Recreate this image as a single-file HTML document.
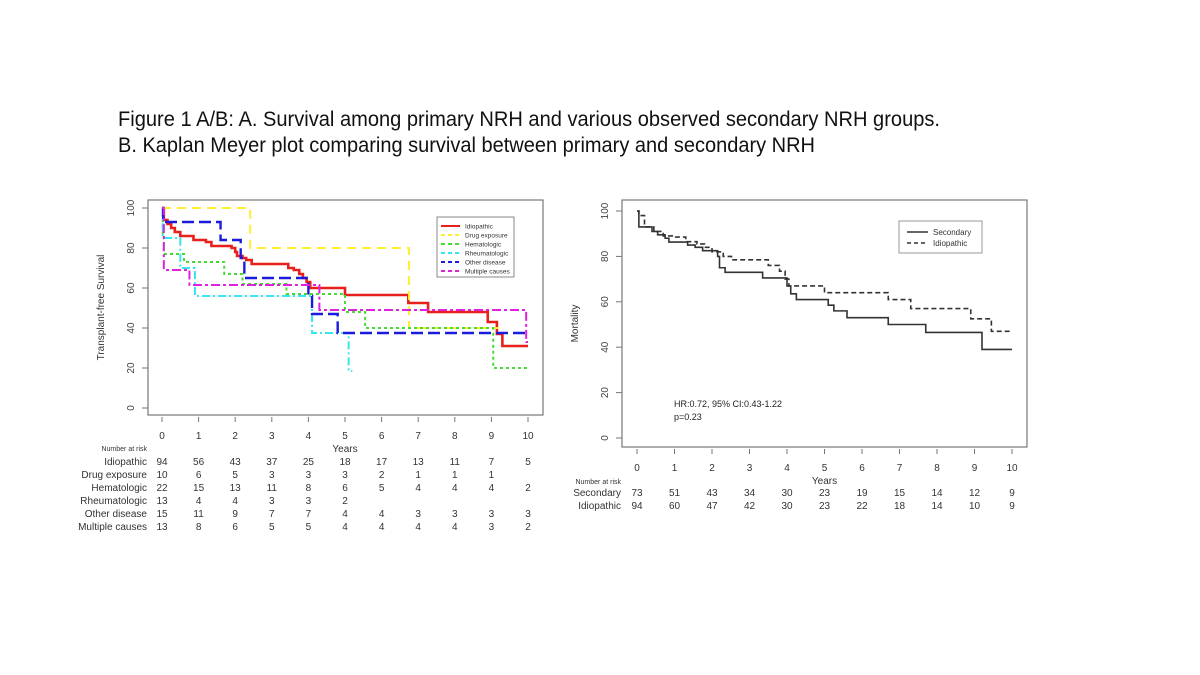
<!DOCTYPE html>
<html><head><meta charset="utf-8"><style>
body{margin:0;background:#fff;width:1200px;height:675px;overflow:hidden}
svg{display:block;font-family:"Liberation Sans",sans-serif}
</style></head><body>
<svg id="s" width="1200" height="675" viewBox="0 0 1200 675">
<text x="118" y="126" font-size="21" fill="#111" textLength="822" lengthAdjust="spacingAndGlyphs">Figure 1 A/B: A. Survival among primary NRH and various observed secondary NRH groups.</text>
<text x="118" y="152" font-size="21" fill="#111" textLength="697" lengthAdjust="spacingAndGlyphs">B. Kaplan Meyer plot comparing survival between primary and secondary NRH</text>
<g id="A"></g>
<g id="B"></g>
</svg>
<script>
// ---- Chart A data ----
const yearsA = [0,1,2,3,4,5,6,7,8,9,10];
const yTicks = [0,20,40,60,80,100];
const idioT = [0,0.05,0.15,0.25,0.35,0.5,0.86,1.2,1.35,1.9,2.0,2.05,2.2,2.3,2.45,3.45,3.6,3.75,3.85,3.95,4.05,5.0,6.73,7.27,8.9,9.15,9.3,10];
const idioV = [100,94,92,90,88,86,84,83,81,80,78,76,75,74,72,70,69,67,65,63,60,56.5,52.5,48,43,37,31,31];
const drugT = [0,2.41,6.75,9.2];
const drugV = [100,80,40,40];
const hemaT = [0,0.02,0.05,0.6,1.7,2.2,3.4,5.0,5.55,9.05,10];
const hemaV = [100,86,77,73,67,62,57,48,40,20,20];
const rheuT = [0,0.02,0.5,0.9,4.1,5.1,5.2];
const rheuV = [100,85,70,56,37.5,18.5,18.5];
const otherT = [0,0.03,1.6,2.15,2.25,4.0,4.1,4.8,10];
const otherV = [100,93,84,75,65,56,47,37.5,37.5];
const multT = [0,0.05,0.75,4.3,9.95,10];
const multV = [100,69,61.5,49,33,33];
const groupsA = ["Idiopathic","Drug exposure","Hematologic","Rheumatologic","Other disease","Multiple causes"];
const riskIdio = [94,56,43,37,25,18,17,13,11,7,5];
const riskDrug = [10,6,5,3,3,3,2,1,1,1,""];
const riskHema = [22,15,13,11,8,6,5,4,4,4,2];
const riskRheu = [13,4,4,3,3,2,"","","","",""];
const riskOther = [15,11,9,7,7,4,4,3,3,3,3];
const riskMult = [13,8,6,5,5,4,4,4,4,3,2];
// ---- Chart B data ----
const secT = [0,0.05,0.4,0.55,0.75,0.85,1.35,1.55,1.75,2.15,2.2,2.35,3.35,4.0,4.1,4.25,5.1,5.25,5.6,6.7,7.7,9.2,10];
const secV = [100,93,91,89.5,88,86.3,85,84,82.5,80,75,73,70.5,67,63.5,61,58.5,56,53,50,46.5,39,39];
const idiBT = [0,0.05,0.2,0.45,0.7,1.0,1.3,1.6,1.8,2.0,2.3,2.52,3.5,3.8,3.95,4.05,5.0,6.7,7.3,8.9,9.45,10];
const idiBV = [100,98,93,91,89,88.5,86.5,85.5,84,82,80,78.5,76,73.5,70,67,64,61,57,52.5,47,47];
const riskSec = [73,51,43,34,30,23,19,15,14,12,9];
const riskIdiB = [94,60,47,42,30,23,22,18,14,10,9];

const NS="http://www.w3.org/2000/svg";
function mk(p,tag,at,txt){const e=document.createElementNS(NS,tag);for(const k in at)e.setAttribute(k,at[k]);if(txt!==undefined)e.textContent=txt;p.appendChild(e);return e;}
function stepPath(T,V,xs,ys){let d="M"+xs(T[0])+","+ys(V[0]);for(let i=1;i<T.length;i++){d+=" H"+xs(T[i])+" V"+ys(V[i]);}return d;}

function axes(g,box,xs,ys,ylabel,lblX){
  const r=mk(g,"rect",{x:box[0],y:box[1],width:box[2]-box[0],height:box[3]-box[1],fill:"none",stroke:"#777","stroke-width":1.2});
  
  
  yTicks.forEach(v=>{
    const y=ys(v);
    mk(g,"line",{x1:box[0]-6,x2:box[0],y1:y,y2:y,stroke:"#777"});
    const t=mk(g,"text",{x:box[0]-14,y:y,"font-size":10,fill:"#444","text-anchor":"middle",transform:`rotate(-90 ${box[0]-14} ${y})`},v);
    
    
  });
  yearsA.forEach(v=>{
    const x=xs(v);
    mk(g,"line",{x1:x,x2:x,y1:box[3]+2,y2:box[3]+7,stroke:"#777"});
  });
  const yl=mk(g,"text",{x:lblX,y:(box[1]+box[3])/2,"font-size":10,fill:"#333","text-anchor":"middle",transform:`rotate(-90 ${lblX} ${(box[1]+box[3])/2})`},ylabel);
  
  
}

// Chart A
(function(){
  const g=document.getElementById("A");
  const xs=t=>162+36.6*t, ys=v=>408-2*v;
  axes(g,[148,200,543,415],xs,ys,"Transplant-free Survival",104);
  const series=[
    [idioT,idioV,"#e8201c","",2.6,"curve-idiopathic"],
    [drugT,drugV,"#ffee33","9,6",2,"curve-drug-exposure"],
    [hemaT,hemaV,"#44dd33","3,3",2,"curve-hematologic"],
    [rheuT,rheuV,"#33e6f0","8,3,2,3",2,"curve-rheumatologic"],
    [otherT,otherV,"#1b1bdd","12,5",2.4,"curve-other-disease"],
    [multT,multV,"#dd22dd","9,3,3,3",2,"curve-multiple-causes"]];
  series.forEach(s=>{
    const p=mk(g,"path",{d:stepPath(s[0],s[1],xs,ys),fill:"none",stroke:s[2],"stroke-width":s[4],"stroke-dasharray":s[3]});
    
    
  });
  const lg=mk(g,"g",{});
  
  
  mk(lg,"rect",{x:437,y:217,width:77,height:60,fill:"#fff",stroke:"#888"});
  groupsA.forEach((n,i)=>{
    const y=226+i*9;
    mk(lg,"line",{x1:441,x2:460,y1:y,y2:y,stroke:series[i][2],"stroke-width":2,"stroke-dasharray":series[i][3]?"4,3":""});
    const t=mk(lg,"text",{x:465,y:y+2.5,"font-size":6.5,fill:"#333"},n);
    
    
  });
  yearsA.forEach(v=>{const t=mk(g,"text",{x:xs(v),y:439,"font-size":10,fill:"#333","text-anchor":"middle"},v);
    
    });
  const yt=mk(g,"text",{x:xs(5),y:452,"font-size":10,fill:"#333","text-anchor":"middle"},"Years");
  
  
  mk(g,"text",{x:147,y:451,"font-size":7,fill:"#333","text-anchor":"end"},"Number at risk");
  const rows=[riskIdio,riskDrug,riskHema,riskRheu,riskOther,riskMult];
  rows.forEach((r,i)=>{
    const y=465+i*13;
    const l=mk(g,"text",{x:147,y:y,"font-size":10,fill:"#333","text-anchor":"end"},groupsA[i]);
    
    
    r.forEach((v,j)=>{mk(g,"text",{x:xs(yearsA[j]),y:y,"font-size":10,fill:"#333","text-anchor":"middle"},v);});
  });
})();

// Chart B
(function(){
  const g=document.getElementById("B");
  const xs=t=>637+37.5*t, ys=v=>438-2.27*v;
  axes(g,[622,200,1027,447],xs,ys,"Mortality",578);
  const a=mk(g,"path",{d:stepPath(secT,secV,xs,ys),fill:"none",stroke:"#333","stroke-width":1.6});
  
  
  const b=mk(g,"path",{d:stepPath(idiBT,idiBV,xs,ys),fill:"none",stroke:"#333","stroke-width":1.6,"stroke-dasharray":"5,3"});
  
  
  const lg=mk(g,"g",{});
  
  
  mk(lg,"rect",{x:899,y:221,width:83,height:32,fill:"#fff",stroke:"#999"});
  mk(lg,"line",{x1:907,x2:928,y1:232,y2:232,stroke:"#333","stroke-width":1.4});
  mk(lg,"line",{x1:907,x2:928,y1:243,y2:243,stroke:"#333","stroke-width":1.4,"stroke-dasharray":"4,3"});
  mk(lg,"text",{x:933,y:235,"font-size":8,fill:"#333"},"Secondary");
  mk(lg,"text",{x:933,y:246,"font-size":8,fill:"#333"},"Idiopathic");
  const h=mk(g,"text",{x:674,y:407,"font-size":9,fill:"#222"},"HR:0.72, 95% CI:0.43-1.22");
  
  
  mk(g,"text",{x:674,y:420,"font-size":9,fill:"#222"},"p=0.23");
  yearsA.forEach(v=>{const t=mk(g,"text",{x:xs(v),y:471,"font-size":10,fill:"#333","text-anchor":"middle"},v);
    
    });
  const yt=mk(g,"text",{x:xs(5),y:484,"font-size":10,fill:"#333","text-anchor":"middle"},"Years");
  
  
  mk(g,"text",{x:621,y:484,"font-size":7,fill:"#333","text-anchor":"end"},"Number at risk");
  [["Secondary",riskSec],["Idiopathic",riskIdiB]].forEach((r,i)=>{
    const y=496+i*13;
    const l=mk(g,"text",{x:621,y:y,"font-size":10,fill:"#333","text-anchor":"end"},r[0]);
    
    
    r[1].forEach((v,j)=>{mk(g,"text",{x:xs(yearsA[j]),y:y,"font-size":10,fill:"#333","text-anchor":"middle"},v);});
  });
})();
</script>
</body></html>
